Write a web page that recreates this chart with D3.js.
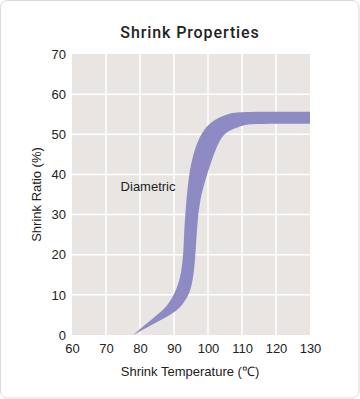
<!DOCTYPE html>
<html><head><meta charset="utf-8">
<script src="https://cdn.jsdelivr.net/npm/d3@7"></script>
<style>
html,body{margin:0;padding:0;background:#fff;}
svg{display:block;}
</style></head>
<body>
<svg id="c" width="360" height="399"></svg>
<script>
// Data: band edges (temperature °C, shrink ratio %)
const upperTemp = [78, 82, 86.85, 88.3, 90.3, 91.97, 92.56, 92.85, 93.0, 93.5, 94.2, 95.2, 96.7, 98.6, 101.6, 106.5, 110, 130];
const upperRatio = [0, 2.9, 6.2, 7.7, 10.4, 14.5, 18.7, 22.0, 26.2, 32.0, 38.6, 43.6, 47.8, 51.1, 53.6, 55.4, 55.6, 55.6];
const lowerTemp = [78, 84.4, 91.3, 92.7, 94.7, 95.7, 96.2, 96.5, 96.9, 97.6, 99.2, 101.1, 103.0, 104.5, 106.5, 110.4, 113, 130];
const lowerRatio = [0, 2.9, 6.2, 7.9, 10.4, 14.5, 18.7, 23.0, 28.0, 33.6, 38.6, 43.6, 47.8, 49.8, 51.1, 52.3, 52.6, 52.6];
const xTicks = [60, 70, 80, 90, 100, 110, 120, 130];
const yTicks = [0, 10, 20, 30, 40, 50, 60, 70];
const title = "Shrink Properties";
const xTitle = "Shrink Temperature (℃)";
const yTitle = "Shrink Ratio (%)";
const seriesLabel = "Diametric";

const svg = d3.select("#c");
const W = 360, H = 399;
const m = {left: 72, right: 50, top: 54, bottom: 64};

svg.append("rect").attr("x", 0.5).attr("y", 0.5).attr("width", W - 1.5).attr("height", H - 1.5)
  .attr("rx", 7).attr("fill", "#fff").attr("stroke", "#d9d9d9");

const x = d3.scaleLinear().domain([60, 130]).range([m.left, W - m.right]);
const y = d3.scaleLinear().domain([0, 70]).range([H - m.bottom, m.top]);

svg.append("rect").attr("x", x(60)).attr("y", y(70)).attr("width", x(130) - x(60)).attr("height", y(0) - y(70))
  .attr("fill", "#e8e5e2");

const g = svg.append("g");
g.selectAll("line.vg").data(xTicks.filter(d => d > 60 && d < 130)).join("line")
  .attr("x1", d => x(d)).attr("x2", d => x(d)).attr("y1", y(70)).attr("y2", y(0))
  .attr("stroke", "#fff").attr("stroke-width", 1.5);
g.selectAll("line.hg").data(yTicks.filter(d => d > 0 && d < 70)).join("line")
  .attr("x1", x(60)).attr("x2", x(130)).attr("y1", d => y(d)).attr("y2", d => y(d))
  .attr("stroke", "#fff").attr("stroke-width", 1.5);

// band
const up = upperTemp.map((t, i) => [x(t), y(upperRatio[i])]);
const lo = lowerTemp.map((t, i) => [x(t), y(lowerRatio[i])]).reverse();
const lg = d3.line().curve(d3.curveBasis);
const p1 = lg(up);
const p2 = lg(lo).replace(/^M/, "L");
svg.append("path").attr("d", p1 + p2 + "Z").attr("fill", "#8d8ac4");

// axes
const font = "'Liberation Sans Narrow', 'Liberation Sans', Arial, sans-serif";
const xAxis = d3.axisBottom(x).tickValues(xTicks).tickSize(0).tickPadding(6);
const xg = svg.append("g").attr("transform", `translate(0,${y(0)})`).call(xAxis);
xg.select(".domain").remove();
xg.selectAll("text").attr("font-family", font).attr("font-size", 13).attr("fill", "#222").attr("dy", "0.9em");

const yAxis = d3.axisLeft(y).tickValues(yTicks).tickSize(0).tickPadding(6);
const yg = svg.append("g").attr("transform", `translate(${x(60)},0)`).call(yAxis);
yg.select(".domain").remove();
yg.selectAll("text").attr("font-family", font).attr("font-size", 13).attr("fill", "#222");

const sans = "'Liberation Sans', Arial, sans-serif";
svg.append("text").attr("x", 190).attr("y", 38).attr("text-anchor", "middle")
  .attr("font-family", "Roboto, 'Liberation Sans', sans-serif").attr("font-size", 16).attr("font-weight", 500).attr("letter-spacing", 0.9)
  .attr("fill", "#222").text(title);

svg.append("text").attr("x", 190).attr("y", 376).attr("text-anchor", "middle")
  .attr("font-family", sans).attr("font-size", 13).attr("fill", "#222").text(xTitle);

svg.append("text").attr("transform", `translate(41,${(y(0) + y(70)) / 2 + 0}) rotate(-90)`).attr("text-anchor", "middle")
  .attr("font-family", sans).attr("font-size", 13).attr("fill", "#222").text(yTitle);

svg.append("text").attr("x", x(74.3)).attr("y", y(35.8)).attr("font-family", sans).attr("font-size", 13)
  .attr("fill", "#222").text(seriesLabel);
</script>
</body></html>
